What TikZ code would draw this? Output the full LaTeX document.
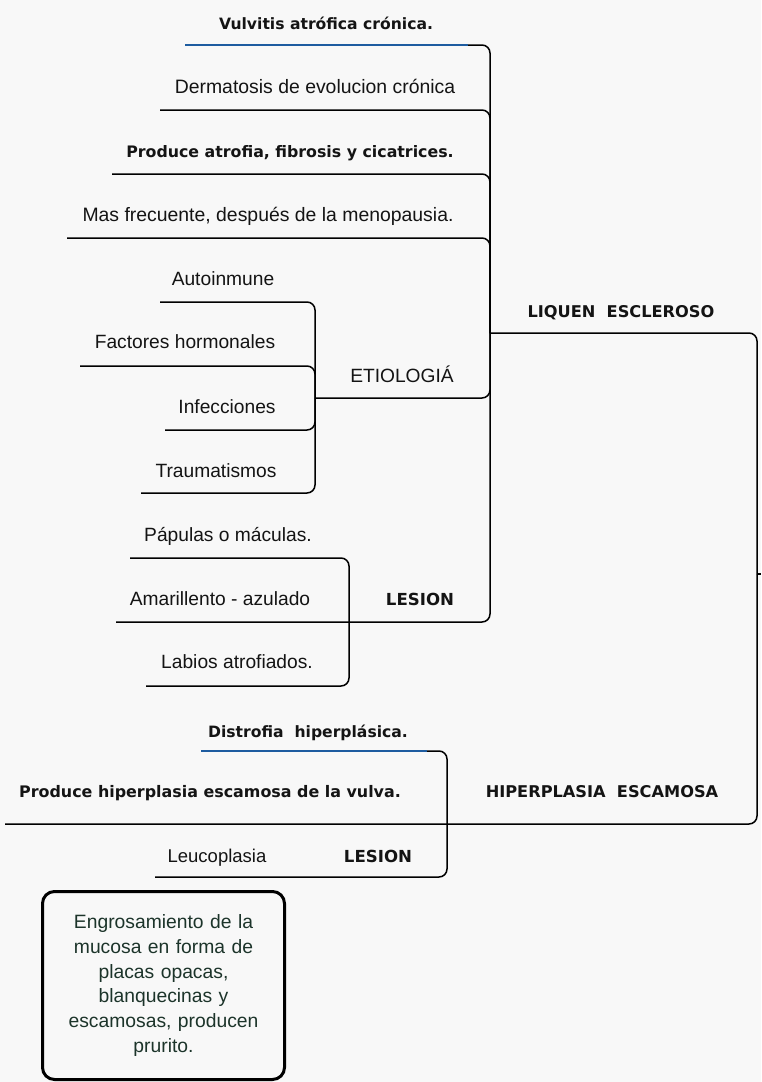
\documentclass[tikz,border=0pt]{standalone}
\usepackage{fontspec}
\usetikzlibrary{calc}
\setmainfont{Liberation Sans}
\newfontfamily\topicfont{DejaVu Sans}
\definecolor{bg}{RGB}{248,248,248}
\definecolor{txt}{RGB}{20,20,20}
\definecolor{boxtxt}{RGB}{28,52,42}
\definecolor{blueline}{RGB}{30,92,160}
\tikzset{
  reg/.style={font={\fontsize{#1}{22}\selectfont}, text=txt, inner sep=0pt, anchor=base},
  reg/.default=19.2,
  bld/.style={font={\topicfont\bfseries\fontsize{#1}{19}\selectfont}, text=txt, inner sep=0pt, anchor=base},
  bld/.default=16.2,
  conn/.style={line width=1.5pt, draw=black, rounded corners=8pt},
  blueseg/.style={line width=1.5pt, draw=blueline},
  notebox/.style={draw=black, line width=3pt, rounded corners=12pt, fill=bg,
    minimum width=242pt, minimum height=188pt, text width=236pt, align=center,
    text=boxtxt, inner sep=0pt, font={\fontsize{19.3}{24.8}\selectfont}}
}
\begin{document}
\begin{tikzpicture}[x=1pt,y=-1pt]
\fill[bg] (0,0) rectangle (761,1082);
\useasboundingbox (0,0) rectangle (761,1082);

% ---------- junction coordinates ----------
\coordinate (spL) at (490,333);   % LIQUEN spine meets main line
\coordinate (spE) at (315,398);   % ETIOLOGIA sub-spine
\coordinate (spLe) at (349,622);  % LESION sub-spine
\coordinate (spH) at (447,824);   % HIPERPLASIA sub-spine
\coordinate (mainR) at (757,574); % central topic (off canvas)
\coordinate (mainEnd) at (761,574);

% line start coordinates
\coordinate (vulA) at (185,45);   \coordinate (vulB) at (490,45);
\coordinate (derA) at (160,110);  \coordinate (derB) at (490,110);
\coordinate (proA) at (112,174);  \coordinate (proB) at (490,174);
\coordinate (masA) at (67,238);   \coordinate (masB) at (490,238);
\coordinate (etiB) at (490,398);
\coordinate (lesB) at (490,622);
\coordinate (autA) at (160,302);  \coordinate (autB) at (315,302);
\coordinate (facA) at (80,366);   \coordinate (facB) at (315,366);
\coordinate (infA) at (165,430);  \coordinate (infB) at (315,430);
\coordinate (traA) at (141,493);  \coordinate (traB) at (315,493);
\coordinate (papA) at (130,558);  \coordinate (papB) at (349,558);
\coordinate (amaA) at (116,622);
\coordinate (labA) at (146,686);  \coordinate (labB) at (349,686);
\coordinate (liqB) at (757,333);
\coordinate (hipA) at (5,824);    \coordinate (hipB) at (757,824);
\coordinate (disA) at (201,751);  \coordinate (disB) at (447,751);
\coordinate (leuA) at (155,877);  \coordinate (leuB) at (447,877);

% ---------- connectors ----------
% LIQUEN ESCLEROSO children
\draw[conn] (vulA) -- (vulB) -- (spL);
\draw[conn] (derA) -- (derB) -- (spL);
\draw[conn] (proA) -- (proB) -- (spL);
\draw[conn] (masA) -- (masB) -- (spL);
\draw[conn] (spE) -- (etiB) -- (spL);
\draw[conn] (amaA) -- (lesB) -- (spL);
\draw[blueseg] (vulA) -- ($(vulB)+(-22,0)$);
% ETIOLOGIA children
\draw[conn] (autA) -- (autB) -- (spE);
\draw[conn] (facA) -- (facB) -- (spE);
\draw[conn] (infA) -- (infB) -- (spE);
\draw[conn] (traA) -- (traB) -- (spE);
% LESION children
\draw[conn] (papA) -- (papB) -- (spLe);
\draw[conn] (labA) -- (labB) -- (spLe);
% main
\draw[conn] (spL) -- (liqB) -- (mainR);
\draw[conn] (hipA) -- (hipB) -- (mainR);
\draw[line width=1.5pt] (mainR) -- (mainEnd);
% HIPERPLASIA children
\draw[conn] (disA) -- (disB) -- (spH);
\draw[blueseg] (disA) -- ($(disB)+(-20,0)$);
\draw[conn] (leuA) -- (leuB) -- (spH);

% ---------- texts ----------
\node[bld=15.6] (vul) at (326,29) {Vulvitis atrófica crónica.};
\node[reg=19.4] (der) at (315,93) {Dermatosis de evolucion crónica};
\node[bld=15.8] (pro) at (290,157) {Produce atrofia, fibrosis y cicatrices.};
\node[reg=19.4] (mas) at (268,221) {Mas frecuente, después de la menopausia.};
\node[reg] (aut) at (223,285) {Autoinmune};
\node[bld] (liq) at (621,317) {LIQUEN\ \ ESCLEROSO};
\node[reg] (fac) at (185,348) {Factores hormonales};
\node[reg] (eti) at (402,382) {ETIOLOGIÁ};
\node[reg] (inf) at (227,413) {Infecciones};
\node[reg] (tra) at (216,477) {Traumatismos};
\node[reg] (pap) at (228,541) {Pápulas o máculas.};
\node[reg] (ama) at (220,605) {Amarillento - azulado};
\node[bld=16.6] (les) at (420,605) {LESION};
\node[reg] (lab) at (237,668) {Labios atrofiados.};
\node[bld=15.6] (dis) at (308,737) {Distrofia\ \ hiperplásica.};
\node[bld=15.9] (phv) at (210,797) {Produce hiperplasia escamosa de la vulva.};
\node[bld] (hip) at (602,797) {HIPERPLASIA\ \ ESCAMOSA};
\node[reg=18.5] (leu) at (217,862) {Leucoplasia};
\node[bld=16.6] (les2) at (378,862) {LESION};

\node[notebox] (note) at (163.5,985.5) {Engrosamiento de la\\mucosa en forma de\\placas opacas,\\blanquecinas y\\escamosas, producen\\prurito.};
\end{tikzpicture}
\end{document}
